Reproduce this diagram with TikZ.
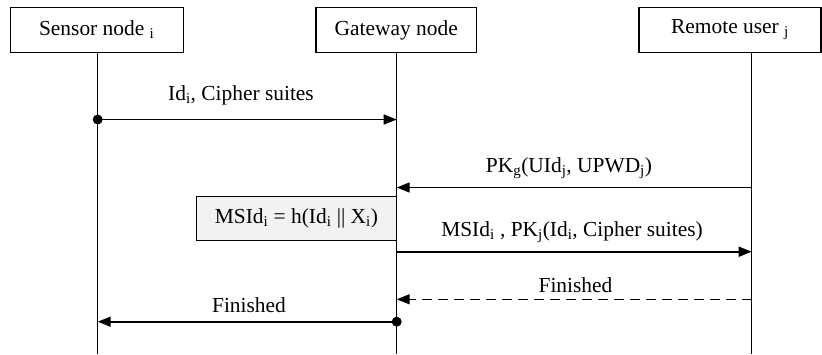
\documentclass[tikz,border=0pt]{standalone}
\usepackage{fontspec}
\setmainfont{Liberation Serif}
\usetikzlibrary{arrows.meta}

\begin{document}
\begin{tikzpicture}[x=1bp,y=1bp]
\tikzset{
  every node/.style={font=\fontsize{21.5}{25}\selectfont, inner sep=0pt},
  actor/.style={draw, line width=1.1bp, minimum height=45bp, minimum width=173bp},
  life/.style={line width=1.2bp},
  msg/.style={line width=1.6bp, -{Triangle[length=13bp,width=10bp]}},
  reply/.style={msg, dash pattern=on 10bp off 6bp},
  calc/.style={draw, line width=1.1bp, fill=gray!10, minimum height=44.7bp, minimum width=199.3bp}
}
\useasboundingbox (0,0) rectangle (822,-354);
% actors
\node[actor] (sensor) at (96.7,-30) {Sensor node \textsubscript{i}};
\node[actor, minimum width=160.7bp] (gateway) at (396.3,-30) {Gateway node};
\node[actor, minimum width=182bp] (remote) at (730,-30) {Remote user \textsubscript{j}};
% lifelines
\coordinate (sx) at (97.7,-52.7);
\coordinate (gx) at (396.7,-52.7);
\coordinate (rx) at (751.7,-52.7);
\coordinate (bot) at (0,-354);
\draw[life] (sx) -- (sx |- bot);
\draw[life] (gx) -- (gx |- bot);
\draw[life] (rx) -- (rx |- bot);
% message heights
\coordinate (m1) at (0,-119.5);
\coordinate (m2) at (0,-187.5);
\coordinate (m3) at (0,-251.7);
\coordinate (m4) at (0,-299.3);
\coordinate (m5) at (0,-321.7);
% messages
\draw[msg] (sx |- m1) -- (gx |- m1);
\fill (sx |- m1) circle (5bp);
\node (l1) at (241,-95) {Id\textsubscript{i}, Cipher suites};
\draw[msg] (rx |- m2) -- (gx |- m2);
\node (l2) at (569,-168) {PK\textsubscript{g}(UId\textsubscript{j}, UPWD\textsubscript{j})};
\node[calc] (hash) at (296.4,-218.4) {MSId\textsubscript{i} = h(Id\textsubscript{i} || X\textsubscript{i})};
\draw[msg] (gx |- m3) -- (rx |- m3);
\node (l3) at (572,-232.5) {MSId\textsubscript{i} , PK\textsubscript{j}(Id\textsubscript{i}, Cipher suites)};
\draw[reply] (rx |- m4) -- (gx |- m4);
\node (l4) at (575.5,-285) {Finished};
\draw[msg] (gx |- m5) -- (sx |- m5);
\fill (gx |- m5) circle (5bp);
\node (l5) at (249,-305) {Finished};
\end{tikzpicture}
\end{document}
